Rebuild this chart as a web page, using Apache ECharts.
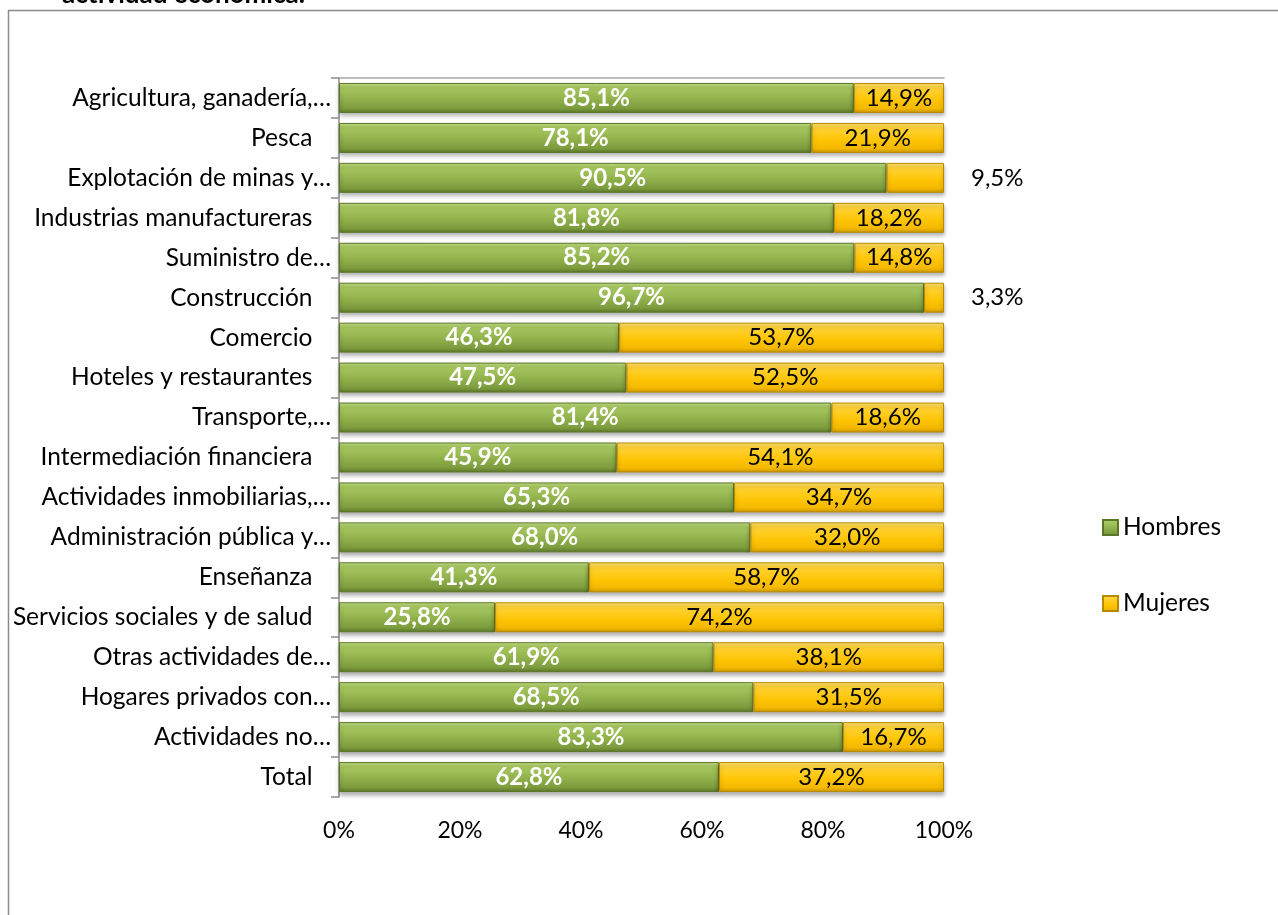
<!DOCTYPE html>
<html>
<head>
<meta charset="utf-8">
<script src="https://cdn.jsdelivr.net/npm/echarts@6/dist/echarts.min.js"></script>
<style>
html,body{margin:0;padding:0;background:#fff;}
#c{width:1278px;height:915px;}
</style>
</head>
<body>
<div id="c"></div>
<script>
const categories = [
  "Agricultura, ganadería,…", "Pesca ", "Explotación de minas y…", "Industrias manufactureras ",
  "Suministro de…", "Construcción ", "Comercio ", "Hoteles y restaurantes ", "Transporte,…",
  "Intermediación financiera ", "Actividades inmobiliarias,…", "Administración pública y…",
  "Enseñanza ", "Servicios sociales y de salud ", "Otras actividades de…",
  "Hogares privados con…", "Actividades no…", "Total "
];
const hombres = [85.1, 78.1, 90.5, 81.8, 85.2, 96.7, 46.3, 47.5, 81.4, 45.9, 65.3, 68.0, 41.3, 25.8, 61.9, 68.5, 83.3, 62.8];
const mujeres = [14.9, 21.9, 9.5, 18.2, 14.8, 3.3, 53.7, 52.5, 18.6, 54.1, 34.7, 32.0, 58.7, 74.2, 38.1, 31.5, 16.7, 37.2];
const outsideLabels = ["Explotación de minas y…", "Construcción "];
const xTicks = [0, 20, 40, 60, 80, 100];
const titleText = "actividad económica.";

const FONT = "Lato";
const fmt = v => v.toFixed(1).replace('.', ',') + '%';

const greenFill = new echarts.graphic.LinearGradient(0, 0, 0, 1, [
  {offset: 0, color: '#c3df86'},
  {offset: 0.15, color: '#a8c960'},
  {offset: 0.55, color: '#90b04b'},
  {offset: 0.85, color: '#7c9b3d'},
  {offset: 1, color: '#5b7728'}
]);
const yellowFill = new echarts.graphic.LinearGradient(0, 0, 0, 1, [
  {offset: 0, color: '#ffe175'},
  {offset: 0.15, color: '#ffd43a'},
  {offset: 0.55, color: '#ffc608'},
  {offset: 0.85, color: '#f4b900'},
  {offset: 1, color: '#c99500'}
]);

const chart = echarts.init(document.getElementById('c'), null, {renderer: 'canvas'});
chart.setOption({
  animation: false,
  backgroundColor: '#ffffff',
  textStyle: {fontFamily: FONT},
  graphic: [
    {type: 'rect', shape: {x: 8.5, y: 10.5, width: 1400, height: 1000},
     style: {fill: 'none', stroke: '#8c8c8c', lineWidth: 1.5}, silent: true, z: 0},
    {type: 'text', left: 62, top: -18,
     style: {text: titleText, font: 'bold 26px ' + FONT, fill: '#000'}, z: 1}
  ],
  grid: {left: 339, right: 334, top: 78, bottom: 118, containLabel: false},
  legend: {
    orient: 'vertical', left: 1097, top: 510, itemGap: 51,
    itemWidth: 15, itemHeight: 15, icon: 'rect',
    textStyle: {fontFamily: FONT, fontSize: 24.5, color: '#000'},
    data: ['Hombres', 'Mujeres']
  },
  xAxis: [{
    type: 'value', min: 0, max: 100, interval: 20,
    axisLine: {show: false}, axisTick: {show: false}, splitLine: {show: false},
    axisLabel: {formatter: v => v + '%', fontFamily: FONT, fontSize: 23, color: '#000', margin: 22,
      customValues: xTicks}
  }, {
    type: 'value', position: 'top', min: 0, max: 100,
    axisLine: {show: true, lineStyle: {color: '#a6a6a6', width: 1.5}},
    axisTick: {show: false}, axisLabel: {show: false}, splitLine: {show: false}
  }],
  yAxis: {
    type: 'category', inverse: true, data: categories,
    axisLine: {show: true, lineStyle: {color: '#8c8c8c', width: 1.5}},
    axisTick: {show: true, length: 8, alignWithLabel: false, lineStyle: {color: '#8c8c8c', width: 1.5}},
    axisLabel: {fontFamily: FONT, fontSize: 24.5, color: '#000', margin: 8,
      formatter: v => v.endsWith(' ') ? v + '\u2002' : v}
  },
  series: [{
    name: 'Hombres', type: 'bar', stack: 't', barCategoryGap: '25%',
    data: hombres,
    itemStyle: {color: greenFill, borderColor: '#5c7628', borderWidth: 1,
      shadowColor: 'rgba(0,0,0,0.3)', shadowBlur: 4, shadowOffsetY: 3},
    label: {show: true, position: 'inside', formatter: p => fmt(p.value),
      fontFamily: FONT, fontSize: 24, fontWeight: 'bold', color: '#fff'}
  }, {
    name: 'Mujeres', type: 'bar', stack: 't',
    data: mujeres.map((v, i) => outsideLabels.includes(categories[i])
      ? {value: v, label: {position: 'right', distance: 27}} : v),
    itemStyle: {color: yellowFill, borderColor: '#b88a00', borderWidth: 1,
      shadowColor: 'rgba(0,0,0,0.3)', shadowBlur: 4, shadowOffsetY: 3},
    label: {show: true, position: 'inside', formatter: p => fmt(p.value),
      fontFamily: FONT, fontSize: 24, color: '#000'}
  }]
});
</script>
</body>
</html>
